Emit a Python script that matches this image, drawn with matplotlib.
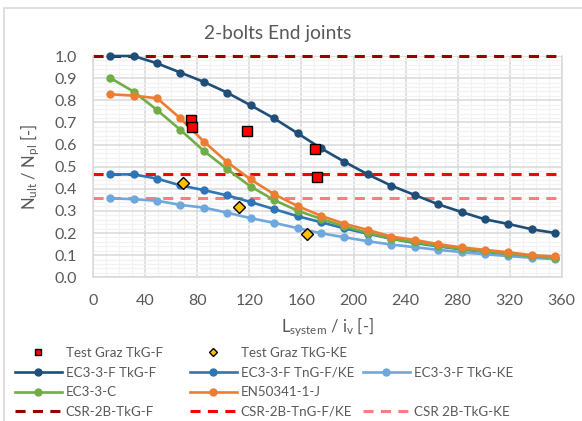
import matplotlib
matplotlib.use("Agg")
import matplotlib.pyplot as plt
from matplotlib.lines import Line2D
from matplotlib.patches import Rectangle
from matplotlib.ticker import MultipleLocator

plt.rcParams['font.family'] = ['Lato', 'DejaVu Sans']
plt.rcParams['mathtext.fontset'] = 'custom'
plt.rcParams['mathtext.rm'] = 'Lato'
plt.rcParams['mathtext.it'] = 'Lato:italic'

TXT = '#595959'

# slenderness L_system / i_v
x = [13, 31, 49, 67, 85, 103, 121, 139, 157, 175, 193, 211, 229, 247, 265, 283, 301, 319, 337, 355]

ec3_tkg_f = [1.0, 1.0, 0.967, 0.925, 0.883, 0.834, 0.777, 0.718, 0.651, 0.583,
             0.522, 0.465, 0.414, 0.372, 0.330, 0.295, 0.262, 0.241, 0.217, 0.200]
ec3_tng_fke = [0.465, 0.465, 0.446, 0.415, 0.394, 0.370, 0.340, 0.308, 0.276, 0.249,
               0.221, 0.197, 0.174, 0.155, 0.140, 0.126, 0.115, 0.104, 0.094, 0.086]
ec3_tkg_ke = [0.357, 0.353, 0.346, 0.327, 0.315, 0.292, 0.267, 0.246, 0.222, 0.199,
              0.181, 0.163, 0.148, 0.136, 0.124, 0.114, 0.104, 0.096, 0.088, 0.082]
ec3_c = [0.901, 0.839, 0.756, 0.666, 0.571, 0.488, 0.410, 0.349, 0.301, 0.264,
         0.230, 0.201, 0.175, 0.158, 0.142, 0.128, 0.117, 0.106, 0.095, 0.088]
en50341 = [0.827, 0.821, 0.809, 0.718, 0.613, 0.520, 0.442, 0.375, 0.322, 0.278,
           0.242, 0.214, 0.184, 0.169, 0.150, 0.135, 0.124, 0.113, 0.100, 0.094]

# test results
test_f_x = [75.1, 75.9, 118.4, 170.6, 172.2]
test_f_y = [0.712, 0.679, 0.661, 0.578, 0.455]
test_ke_x = [68.7, 112.2, 164.5]
test_ke_y = [0.425, 0.319, 0.196]

# CSR levels
csr_tkg_f = 1.0
csr_tng_fke = 0.467
csr_tkg_ke = 0.36

fig = plt.figure(figsize=(5.82, 4.21), dpi=100)
ax = fig.add_axes([93.3 / 582, 1 - 277.3 / 421, (561.7 - 93.3) / 582, (277.3 - 56) / 421])

# chart border
fig.patches.append(Rectangle((4 / 582, -0.1), 1.2, 1 - 8 / 421 + 0.1, transform=fig.transFigure,
                             fill=False, ec='#d9d9d9', lw=1.2))

ax.set_xlim(0, 360)
ax.set_ylim(0, 1.0)
ax.xaxis.set_major_locator(MultipleLocator(40))
ax.xaxis.set_minor_locator(MultipleLocator(10))
ax.yaxis.set_major_locator(MultipleLocator(0.1))
ax.yaxis.set_minor_locator(MultipleLocator(0.02))
ax.grid(which='major', color='#d9d9d9', lw=1.1)
ax.grid(which='minor', color='#f2f2f2', lw=0.9)
ax.set_axisbelow(True)
for s in ['left', 'bottom', 'right']:
    ax.spines[s].set_color('#d9d9d9')
    ax.spines[s].set_linewidth(1.1)
ax.spines['top'].set_visible(False)
ax.tick_params(which='both', length=0, labelsize=11.5, labelcolor=TXT)
ax.tick_params(axis='y', pad=12)
ax.tick_params(axis='x', pad=12)
ax.yaxis.set_major_formatter(matplotlib.ticker.FormatStrFormatter('%.1f'))

dash = (3.3, 2.4)
ax.axhline(csr_tkg_f, color='#990000', lw=2.2, dashes=dash, zorder=2, clip_on=False)
ax.axhline(csr_tng_fke, color='#ff0000', lw=2.2, dashes=dash, zorder=2)
ax.axhline(csr_tkg_ke, color='#ff7c80', lw=2.2, dashes=dash, zorder=2)

lkw = dict(lw=1.9, marker='o', ms=5, clip_on=False, zorder=3)
ax.plot(x, ec3_tkg_f, color='#1f4e79', **lkw)
ax.plot(x, ec3_tng_fke, color='#2e75b6', **lkw)
ax.plot(x, ec3_tkg_ke, color='#6fa8dc', **lkw)
ax.plot(x, ec3_c, color='#70ad47', **lkw)
ax.plot(x, en50341, color='#ed7d31', **lkw)

ax.plot(test_f_x, test_f_y, ls='none', marker='s', ms=6.5, mfc='#ff0000', mec='black', mew=1.0, zorder=5)
ax.plot(test_ke_x, test_ke_y, ls='none', marker='D', ms=6.5, mfc='#ffc000', mec='black', mew=1.0, zorder=5)

fig.text(278 / 582, 1 - 33 / 421, '2-bolts End joints', ha='center', va='center', fontsize=13.8, color=TXT)
fig.text(327.5 / 582, 1 - 327 / 421, r'L$_{\mathrm{system}}$ / i$_{\mathrm{v}}$ [-]',
         ha='center', va='center', fontsize=12, color=TXT)
fig.text(30 / 582, 1 - 167 / 421, r'N$_{\mathrm{ult}}$ / N$_{\mathrm{pl}}$ [-]',
         ha='center', va='center', fontsize=12, color=TXT, rotation=90)

# legend, three columns built separately so they line up like Excel
blank = Line2D([], [], ls='none')
h_tf = Line2D([], [], ls='none', marker='s', ms=5, mfc='#ff0000', mec='black', mew=1.0)
h_tke = Line2D([], [], ls='none', marker='D', ms=4.5, mfc='#ffc000', mec='black', mew=1.0)
h1 = Line2D([], [], color='#1f4e79', lw=1.9, marker='o', ms=5)
h2 = Line2D([], [], color='#2e75b6', lw=1.9, marker='o', ms=5)
h3 = Line2D([], [], color='#6fa8dc', lw=1.9, marker='o', ms=5)
h4 = Line2D([], [], color='#70ad47', lw=1.9, marker='o', ms=5)
h5 = Line2D([], [], color='#ed7d31', lw=1.9, marker='o', ms=5)
d1 = Line2D([], [], color='#990000', lw=2.2, dashes=dash)
d2 = Line2D([], [], color='#ff0000', lw=2.2, dashes=dash)
d3 = Line2D([], [], color='#ff7c80', lw=2.2, dashes=dash)

cols = [
    ([h_tf, h1, h4, d1], ['Test Graz TkG-F', 'EC3-3-F TkG-F', 'EC3-3-C', 'CSR-2B-TkG-F'], 15),
    ([h_tke, h2, h5, d2], ['Test Graz TkG-KE', 'EC3-3-F TnG-F/KE', 'EN50341-1-J', 'CSR-2B-TnG-F/KE'], 190),
    ([blank, h3, blank, d3], ['', 'EC3-3-F TkG-KE', '', 'CSR 2B-TkG-KE'], 363),
]
for hs, ls, px in cols:
    leg = fig.legend(hs, ls, loc='upper left', bbox_to_anchor=(px / 582, 1 - 347 / 421),
                     frameon=False, fontsize=9.6, handlelength=3.5, handletextpad=0.3,
                     labelspacing=0.57, borderpad=0, borderaxespad=0, numpoints=1)
    for t in leg.get_texts():
        t.set_color(TXT)

fig.savefig('out.png', dpi=100)
